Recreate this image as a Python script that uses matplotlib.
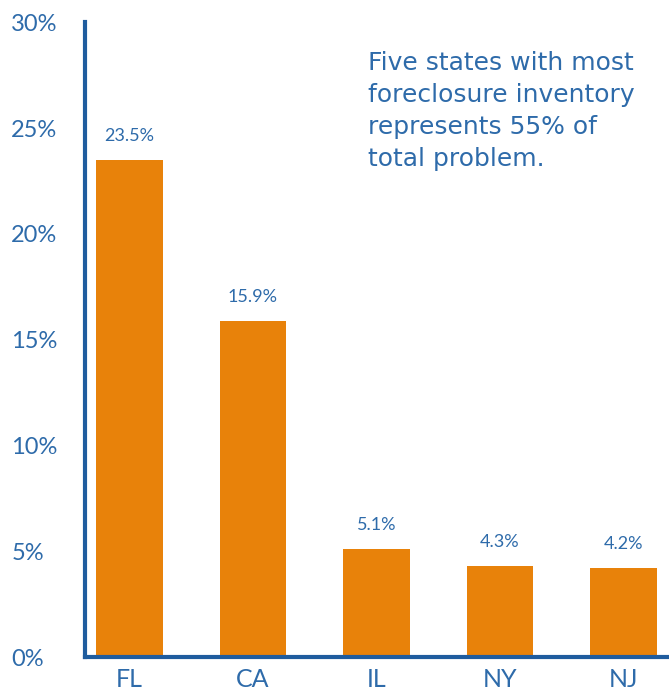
import matplotlib
matplotlib.use("Agg")
import matplotlib.pyplot as plt

states = ["FL", "CA", "IL", "NY", "NJ"]
shares = [23.5, 15.9, 5.1, 4.3, 4.2]
value_labels = ["23.5%", "15.9%", "5.1%", "4.3%", "4.2%"]
yticks = [0, 5, 10, 15, 20, 25, 30]

orange = "#E8820A"
blue = "#1F5C9E"
text_blue = "#2E6BAA"

plt.rcParams["font.family"] = ["Lato", "DejaVu Sans"]

fig = plt.figure(figsize=(6.69, 6.96), dpi=100)
ax = fig.add_axes([0.127, 0.056, 0.873, 0.912])

x = range(len(states))
bars = ax.bar(x, shares, width=0.54, color=orange, zorder=2)

for b, lab in zip(bars, value_labels):
    ax.text(b.get_x() + b.get_width() / 2, b.get_height() + 0.75, lab,
            ha="center", va="bottom", fontsize=13, color=text_blue)

ax.set_xlim(-0.36, 4.37)
ax.set_ylim(0, 30)
ax.set_xticks(list(x))
ax.set_xticklabels(states, fontsize=18, color=text_blue)
ax.set_yticks(yticks)
ax.set_yticklabels([f"{t}%" for t in yticks], fontsize=17, color=text_blue, ha="left")
ax.tick_params(length=0, pad=8)
ax.tick_params(axis="y", pad=53)
for side in ["top", "right"]:
    ax.spines[side].set_visible(False)
for side in ["left", "bottom"]:
    ax.spines[side].set_color(blue)
    ax.spines[side].set_linewidth(3)
    ax.spines[side].set_zorder(3)

ax.text(0.484, 0.955, "Five states with most\nforeclosure inventory\nrepresents 55% of\ntotal problem.",
        transform=ax.transAxes, ha="left", va="top", fontsize=18,
        color=text_blue, linespacing=1.42, family=["DejaVu Sans"])

fig.savefig("out.png", dpi=100)
